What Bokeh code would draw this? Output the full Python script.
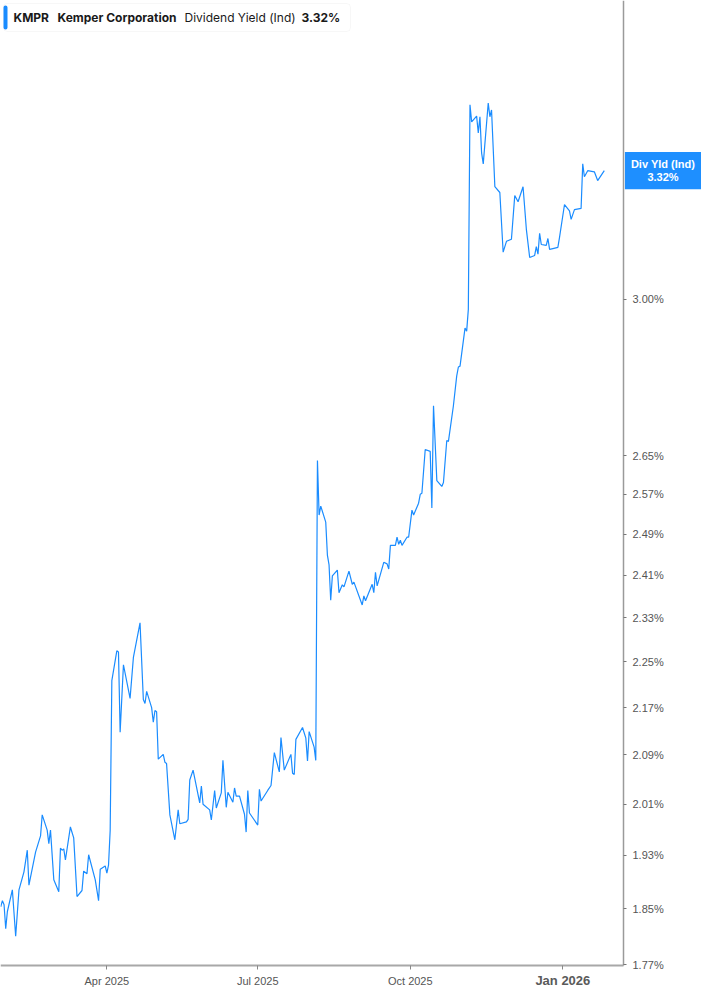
import math
import pandas as pd
from bokeh.plotting import figure
from bokeh.models import (Range1d, FixedTicker, PrintfTickFormatter,
                          CustomJSTickFormatter, Label, BoxAnnotation,
                          DatetimeAxis)
from bokeh.embed import file_html
from bokeh.resources import INLINE

# ---------------- data ----------------
dates = [
    "2025-01-27", "2025-01-28", "2025-01-29", "2025-01-30", "2025-01-31",
    "2025-02-03", "2025-02-05", "2025-02-07", "2025-02-10", "2025-02-12",
    "2025-02-13", "2025-02-17", "2025-02-20", "2025-02-21", "2025-02-24",
    "2025-02-25", "2025-02-26", "2025-02-28", "2025-03-03", "2025-03-04",
    "2025-03-05", "2025-03-06", "2025-03-07", "2025-03-10", "2025-03-12",
    "2025-03-14", "2025-03-17", "2025-03-18", "2025-03-20", "2025-03-21",
    "2025-03-25", "2025-03-27", "2025-03-28", "2025-03-31", "2025-04-01",
    "2025-04-02", "2025-04-03", "2025-04-04", "2025-04-07", "2025-04-08",
    "2025-04-09", "2025-04-11", "2025-04-15", "2025-04-17", "2025-04-21",
    "2025-04-23", "2025-04-24", "2025-04-25", "2025-04-28", "2025-04-29",
    "2025-04-30", "2025-05-01", "2025-05-02", "2025-05-05", "2025-05-06",
    "2025-05-07", "2025-05-09", "2025-05-12", "2025-05-14", "2025-05-15",
    "2025-05-19", "2025-05-20", "2025-05-21", "2025-05-23", "2025-05-27",
    "2025-05-28", "2025-05-29", "2025-06-02", "2025-06-03", "2025-06-05",
    "2025-06-06", "2025-06-09", "2025-06-10", "2025-06-12", "2025-06-13",
    "2025-06-16", "2025-06-17", "2025-06-18", "2025-06-20", "2025-06-23",
    "2025-06-24", "2025-06-25", "2025-06-26", "2025-07-01", "2025-07-02",
    "2025-07-03", "2025-07-07", "2025-07-09", "2025-07-11", "2025-07-14",
    "2025-07-15", "2025-07-17", "2025-07-21", "2025-07-22", "2025-07-23",
    "2025-07-24", "2025-07-28", "2025-07-30", "2025-07-31", "2025-08-01",
    "2025-08-04", "2025-08-05", "2025-08-06", "2025-08-07", "2025-08-08",
    "2025-08-11", "2025-08-12", "2025-08-13", "2025-08-14", "2025-08-15",
    "2025-08-18", "2025-08-19", "2025-08-21", "2025-08-22", "2025-08-25",
    "2025-08-27", "2025-08-28", "2025-09-02", "2025-09-03", "2025-09-04",
    "2025-09-08", "2025-09-09", "2025-09-10", "2025-09-11", "2025-09-15",
    "2025-09-17", "2025-09-18", "2025-09-19", "2025-09-22", "2025-09-23",
    "2025-09-24", "2025-09-25", "2025-09-26", "2025-09-29", "2025-09-30",
    "2025-10-02", "2025-10-03", "2025-10-06", "2025-10-07", "2025-10-08",
    "2025-10-10", "2025-10-13", "2025-10-14", "2025-10-15", "2025-10-17",
    "2025-10-20", "2025-10-21", "2025-10-23", "2025-10-24", "2025-10-27",
    "2025-10-29", "2025-10-30", "2025-10-31", "2025-11-03", "2025-11-04",
    "2025-11-05", "2025-11-06", "2025-11-07", "2025-11-10", "2025-11-11",
    "2025-11-12", "2025-11-13", "2025-11-14", "2025-11-17", "2025-11-18",
    "2025-11-19", "2025-11-21", "2025-11-24", "2025-11-26", "2025-11-28",
    "2025-12-01", "2025-12-03", "2025-12-05", "2025-12-08", "2025-12-10",
    "2025-12-12", "2025-12-15", "2025-12-16", "2025-12-17", "2025-12-18",
    "2025-12-19", "2025-12-22", "2025-12-23", "2025-12-24", "2025-12-26",
    "2025-12-29", "2025-12-30", "2026-01-02", "2026-01-05", "2026-01-06",
    "2026-01-08", "2026-01-12", "2026-01-13", "2026-01-14", "2026-01-16",
    "2026-01-20", "2026-01-22", "2026-01-26",
]

div_yield = [
    1.853, 1.862, 1.856, 1.821, 1.846,
    1.878, 1.810, 1.878, 1.905, 1.938,
    1.885, 1.935, 1.960, 1.993, 1.969,
    1.948, 1.969, 1.893, 1.875, 1.941,
    1.938, 1.940, 1.923, 1.974, 1.957,
    1.868, 1.877, 1.906, 1.902, 1.931,
    1.893, 1.862, 1.909, 1.914, 1.903,
    1.915, 1.969, 2.217, 2.270, 2.268,
    2.128, 2.245, 2.186, 2.258, 2.321,
    2.184, 2.177, 2.198, 2.170, 2.145,
    2.165, 2.163, 2.083, 2.091, 2.078,
    2.076, 1.993, 1.954, 2.001, 1.979,
    1.982, 1.986, 2.049, 2.065, 2.012,
    2.039, 2.010, 2.001, 1.985, 2.032,
    2.004, 2.028, 2.081, 2.005, 2.029,
    2.013, 2.036, 2.023, 2.023, 1.994,
    1.966, 2.032, 1.996, 1.977, 2.034,
    2.015, 2.032, 2.040, 2.094, 2.062,
    2.119, 2.065, 2.091, 2.060, 2.058,
    2.116, 2.136, 2.118, 2.080, 2.129,
    2.103, 2.081, 2.640, 2.528, 2.546,
    2.514, 2.449, 2.430, 2.363, 2.409,
    2.420, 2.377, 2.392, 2.388, 2.418,
    2.393, 2.397, 2.354, 2.371, 2.362,
    2.393, 2.377, 2.416, 2.390, 2.435,
    2.432, 2.422, 2.468, 2.468, 2.484,
    2.470, 2.478, 2.468, 2.484, 2.484,
    2.538, 2.528, 2.552, 2.570, 2.572,
    2.663, 2.659, 2.542, 2.757, 2.598,
    2.586, 2.594, 2.682, 2.680, 2.757,
    2.823, 2.843, 2.845, 2.932, 2.925,
    2.976, 3.500, 3.453, 3.469, 3.423,
    3.467, 3.369, 3.340, 3.505, 3.467,
    3.486, 3.280, 3.265, 3.114, 3.141,
    3.146, 3.257, 3.241, 3.280, 3.171,
    3.101, 3.106, 3.128, 3.109, 3.161,
    3.133, 3.131, 3.148, 3.121, 3.123,
    3.126, 3.151, 3.234, 3.218, 3.196,
    3.221, 3.224, 3.340, 3.306, 3.322,
    3.319, 3.296, 3.322,
]

x_tick_dates = ["2025-04-01", "2025-07-01", "2025-10-01", "2026-01-01"]
y_ticks = [1.77, 1.85, 1.93, 2.01, 2.09, 2.17, 2.25, 2.33, 2.41, 2.49,
           2.57, 2.65, 3.00]

ticker_symbol = "KMPR"
company = "Kemper Corporation"
metric = "Dividend Yield (Ind)"
tag_name = "Div Yld (Ind)"
last_value = div_yield[-1]

# plotted window: time span and value span of the plot area
x_window = ["2025-01-26 20:24", "2026-02-06 14:00"]
y_window = [1.7686, 3.802]

# ---------------- layout ----------------
W, H = 701, 989
AX = 623            # pixel column of the value axis line
AY = 965            # pixel row of the time axis line

def ms(s):
    return pd.Timestamp(s).value / 1e6

x0, xa_pos = ms(x_window[0]), ms(x_window[1])
x1 = xa_pos + (W - AX) * (xa_pos - x0) / AX
ly0, ly1 = math.log(y_window[0]), math.log(y_window[1])
y_bottom = math.exp(ly0 - (H - AY) * (ly1 - ly0) / AY)

p = figure(width=W, height=H, x_axis_type="datetime", y_axis_type="log",
           x_range=Range1d(x0, x1), y_range=Range1d(y_bottom, y_window[1]),
           y_axis_location="right",
           output_backend="svg", toolbar_location=None,
           min_border_left=0, min_border_top=0,
           min_border_right=0, min_border_bottom=0)
p.outline_line_color = None
p.xgrid.visible = False
p.ygrid.visible = False
p.background_fill_color = "white"
p.border_fill_color = "white"

p.line(x=pd.to_datetime(dates), y=div_yield, line_color="#1a8cff",
       line_width=1.2)

# value axis, drawn at a fixed date column
ya = p.yaxis[0]
ya.fixed_location = xa_pos
ya.bounds = (y_window[0], y_window[1])
ya.ticker = FixedTicker(ticks=y_ticks)
ya.formatter = PrintfTickFormatter(format="%.2f%%")
ya.axis_line_color = "#9a9a9a"
ya.axis_line_width = 1.5
ya.major_tick_line_color = "#777777"
ya.major_tick_out = 3
ya.major_tick_in = 0
ya.minor_tick_line_color = None
ya.major_label_text_font = "Liberation Sans"
ya.major_label_text_font_size = "11px"
ya.major_label_text_color = "#555555"
ya.major_label_standoff = 6

# time axis, drawn at a fixed value row
xt = [ms(d) for d in x_tick_dates]
label_js = """
const m = ['Jan','Feb','Mar','Apr','May','Jun','Jul','Aug','Sep','Oct','Nov','Dec'];
const d = new Date(tick);
const s = m[d.getUTCMonth()] + ' ' + d.getUTCFullYear();
"""
xa = p.xaxis[0]
xa.fixed_location = y_window[0]
xa.bounds = (x0, xa_pos)
xa.ticker = FixedTicker(ticks=xt)
xa.formatter = CustomJSTickFormatter(
    code=label_js + "return d.getUTCMonth() == 0 ? '' : s;")
xa.axis_line_color = "#a8a8a8"
xa.axis_line_width = 2
xa.major_tick_line_color = "#888888"
xa.major_tick_out = 4
xa.major_tick_in = 0
xa.minor_tick_line_color = None
xa.major_label_text_font = "Liberation Sans"
xa.major_label_text_font_size = "11px"
xa.major_label_text_color = "#555555"
xa.major_label_standoff = 5

# year-start label, bold, on a second time axis at the same row
jan_ticks = [t for t in xt if pd.Timestamp(t, unit="ms").month == 1]
xa2 = DatetimeAxis(fixed_location=y_window[0],
                   ticker=FixedTicker(ticks=jan_ticks),
                   formatter=CustomJSTickFormatter(code=label_js + "return s;"),
                   axis_line_color=None, major_tick_line_color=None,
                   minor_tick_line_color=None, major_tick_out=0,
                   major_tick_in=0, major_label_standoff=7,
                   major_label_text_font="Liberation Sans",
                   major_label_text_font_style="bold",
                   major_label_text_font_size="13px",
                   major_label_text_color="#5a5a5a")
p.add_layout(xa2, "below")

# value tag on the axis
p.add_layout(Label(x=(AX + 1 + W) / 2, y=last_value, x_units="screen",
                   y_units="data", text="%s\n%.2f%%" % (tag_name, last_value),
                   text_align="center", text_baseline="middle",
                   text_font="Liberation Sans", text_font_style="bold",
                   text_font_size="11px", text_color="white",
                   text_line_height=1.1,
                   background_fill_color="#1e8fff", padding=6))

# header box
p.add_layout(BoxAnnotation(left=3, right=350, top=H - 3, bottom=H - 31,
                           left_units="screen", right_units="screen",
                           top_units="screen", bottom_units="screen",
                           fill_color="white", fill_alpha=1.0,
                           line_color="#e3e3e3", line_width=1,
                           border_radius=4))
p.add_layout(BoxAnnotation(left=3, right=7, top=H - 5, bottom=H - 29,
                           left_units="screen", right_units="screen",
                           top_units="screen", bottom_units="screen",
                           fill_color="#1a8cff", fill_alpha=1.0,
                           line_color=None, border_radius=2))
hdr = [(13, ticker_symbol, "bold"), (57, company, "bold"),
       (184, metric, "normal"), (301, "%.2f%%" % last_value, "bold")]
for hx, txt, style in hdr:
    p.add_layout(Label(x=hx, y=H - 17, x_units="screen", y_units="screen",
                       text=txt, text_align="left", text_baseline="middle",
                       text_font="Inter", text_font_style=style,
                       text_font_size="12px", text_color="#1a1a1a"))

open("out.html", "w").write(file_html(p, INLINE))
